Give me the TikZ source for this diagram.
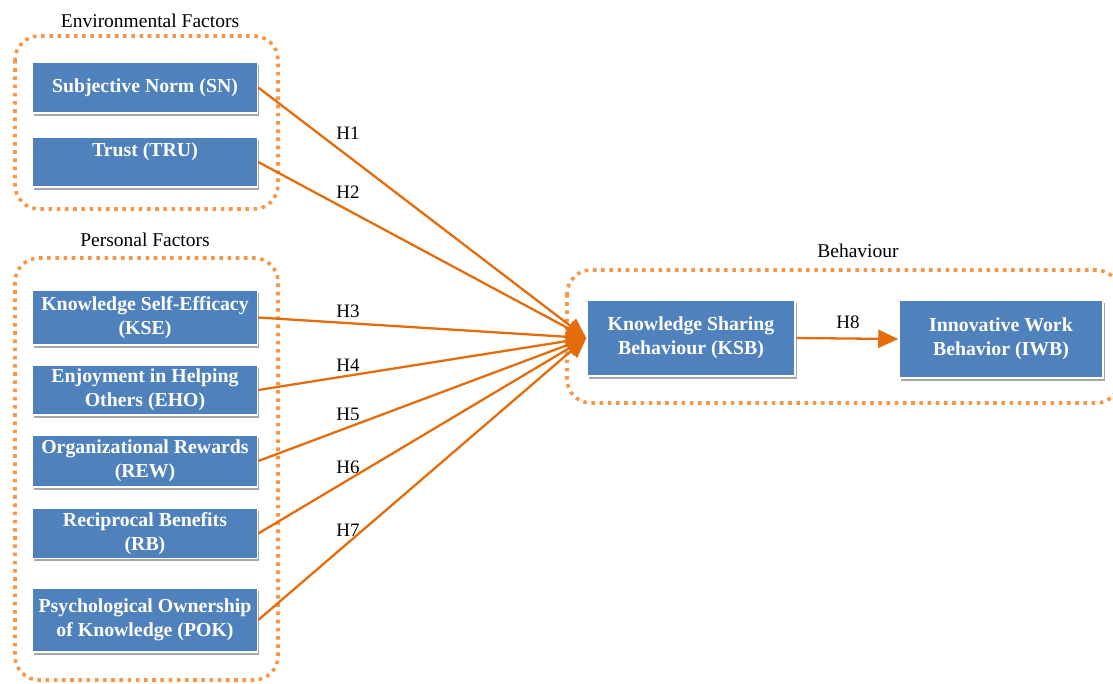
\documentclass[tikz,border=0pt]{standalone}
\usepackage{fontspec}
\setmainfont{Liberation Serif}
\usetikzlibrary{arrows.meta,shadows}
\definecolor{boxblue}{HTML}{4F81BD}
\definecolor{lineorange}{HTML}{E46C0A}
\definecolor{dotorange}{HTML}{F79646}
\tikzset{
  box/.style={draw=white, line width=1.5pt, fill=boxblue, text=white,
    font=\fontsize{19.8}{24}\selectfont\bfseries, align=center, inner sep=2pt,
    minimum width=225pt, drop shadow={shadow xshift=1.5pt, shadow yshift=-2.5pt, opacity=0.35, fill=black}},
  grp/.style={draw=dotorange, line width=3.6pt, dash pattern=on 3.6pt off 4.6pt, rounded corners=24pt},
  grptitle/.style={font=\fontsize{19.5}{22}\selectfont, text=black},
  hlab/.style={font=\fontsize{19}{22}\selectfont, text=black},
  link/.style={draw=lineorange, line width=2.3pt, -{Triangle[length=20pt,width=18pt]}},
}
\begin{document}
\begin{tikzpicture}[x=1pt,y=-1pt]
\useasboundingbox (0,0) rectangle (1113,683);
% groups
\draw[grp] (15,36) rectangle (278,209);
\draw[grp] (15,258) rectangle (278,680);
\draw[grp] (567,270) rectangle (1120,403);
\node[grptitle] (envt) at (150,21) {Environmental Factors};
\node[grptitle] (pert) at (145,240) {Personal Factors};
\node[grptitle] (beht) at (858,251) {Behaviour};
% boxes
\node[box, minimum height=51pt] (sn) at (145,87.5) {Subjective Norm (SN)};
\node[box, minimum height=50pt] (tru) at (145,162) {Trust (TRU)\\\mbox{}};
\node[box, minimum height=55pt] (kse) at (145,317.5) {Knowledge Self-Efficacy\\(KSE)};
\node[box, minimum height=50pt] (eho) at (145,390) {Enjoyment in Helping\\Others (EHO)};
\node[box, minimum height=52pt] (rew) at (145,461) {Organizational Rewards\\(REW)};
\node[box, minimum height=50pt] (rb) at (145,533.5) {Reciprocal Benefits\\(RB)};
\node[box, minimum height=64pt] (pok) at (145,620) {Psychological Ownership\\of Knowledge (POK)};
\node[box, minimum width=208pt, minimum height=76pt] (ksb) at (691,338) {Knowledge Sharing\\Behaviour (KSB)};
\node[box, minimum width=204pt, minimum height=78pt] (iwb) at (1001,339) {Innovative Work\\Behavior (IWB)};
% links
\draw[link] (sn.east) -- (ksb.west);
\draw[link] (tru.east) -- (ksb.west);
\draw[link] (kse.east) -- (ksb.west);
\draw[link] (eho.east) -- (ksb.west);
\draw[link] (rew.east) -- (ksb.west);
\draw[link] (rb.east) -- (ksb.west);
\draw[link] (pok.east) -- (ksb.west);
\draw[link] (ksb.east) -- (iwb.west);
% hypothesis labels
\node[hlab] (h1) at (348,133) {H1};
\node[hlab] (h2) at (348,192) {H2};
\node[hlab] (h3) at (348,311) {H3};
\node[hlab] (h4) at (348,365) {H4};
\node[hlab] (h5) at (348,414) {H5};
\node[hlab] (h6) at (348,467) {H6};
\node[hlab] (h7) at (348,530) {H7};
\node[hlab] (h8) at (848,322) {H8};
\end{tikzpicture}
\end{document}
